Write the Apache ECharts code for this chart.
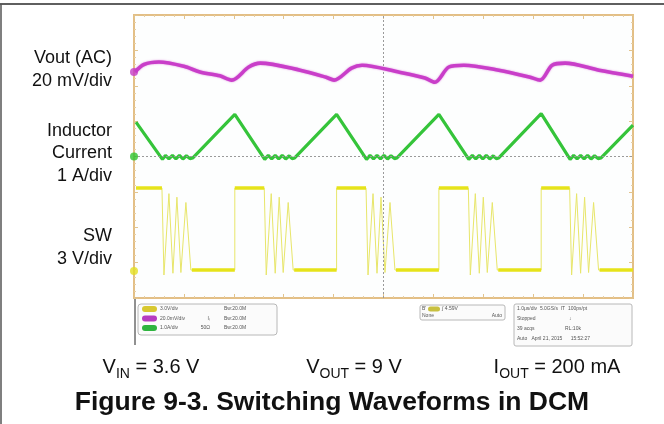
<!DOCTYPE html>
<html>
<head>
<meta charset="utf-8">
<script src="https://cdn.jsdelivr.net/npm/echarts@6/dist/echarts.min.js"></script>
<style>
html,body{margin:0;padding:0;background:#fff;}
#c{width:664px;height:424px;}
</style>
</head>
<body>
<div id="c"></div>
<script>
// Time in divisions (0..10), amplitude in divisions (-4..4, 0 = centre line)
var inductorCurrent = [
  [0.04,0.97],[0.57,-0.08],[0.63,0.03],[0.70,-0.07],[0.77,0.03],[0.84,-0.07],[0.91,0.03],[0.98,-0.07],[1.05,0.02],[1.12,-0.06],[1.18,-0.04],
  [2.02,1.19],[2.62,-0.08],[2.69,0.03],[2.76,-0.07],[2.83,0.03],[2.90,-0.07],[2.97,0.03],[3.04,-0.07],[3.11,0.02],[3.17,-0.06],[3.22,-0.04],
  [4.06,1.19],[4.66,-0.08],[4.73,0.03],[4.80,-0.07],[4.87,0.03],[4.94,-0.07],[5.01,0.03],[5.08,-0.07],[5.15,0.02],[5.22,-0.06],[5.27,-0.04],
  [6.11,1.19],[6.71,-0.08],[6.78,0.03],[6.85,-0.07],[6.92,0.03],[6.99,-0.07],[7.06,0.03],[7.13,-0.07],[7.20,0.02],[7.26,-0.06],[7.31,-0.04],
  [8.16,1.21],[8.74,-0.08],[8.81,0.03],[8.88,-0.07],[8.95,0.03],[9.02,-0.07],[9.09,0.03],[9.16,-0.07],[9.23,0.02],[9.30,-0.06],[9.36,-0.04],
  [10.0,0.89]
];
var voutAC = [
  [0.02,2.39],[0.20,2.60],[0.50,2.67],[1.00,2.55],[1.32,2.39],[1.72,2.28],[1.96,2.16],
  [2.30,2.53],[2.53,2.64],[3.33,2.44],[3.85,2.24],[4.01,2.16],
  [4.36,2.50],[4.57,2.58],[5.32,2.38],[5.83,2.22],[6.03,2.10],
  [6.31,2.53],[6.61,2.58],[7.31,2.44],[7.92,2.25],[8.14,2.16],
  [8.38,2.58],[8.64,2.64],[9.32,2.44],[10.0,2.27]
];
var swNode = [
  [0.04,-0.89],[0.56,-0.89],[0.60,-3.35],[0.70,-1.05],[0.78,-3.30],[0.86,-1.15],[0.94,-3.28],[1.04,-1.30],[1.14,-3.21],
  [2.02,-3.21],[2.02,-0.89],[2.61,-0.89],[2.65,-3.35],[2.75,-1.05],[2.83,-3.30],[2.91,-1.15],[2.99,-3.28],[3.09,-1.30],[3.19,-3.21],
  [4.06,-3.21],[4.06,-0.89],[4.65,-0.89],[4.69,-3.35],[4.79,-1.05],[4.87,-3.30],[4.95,-1.15],[5.03,-3.28],[5.13,-1.30],[5.23,-3.21],
  [6.11,-3.21],[6.11,-0.89],[6.70,-0.89],[6.74,-3.35],[6.84,-1.05],[6.92,-3.30],[7.00,-1.15],[7.08,-3.28],[7.18,-1.30],[7.28,-3.21],
  [8.16,-3.21],[8.16,-0.89],[8.73,-0.89],[8.77,-3.35],[8.87,-1.05],[8.95,-3.30],[9.03,-1.15],[9.11,-3.28],[9.21,-1.30],[9.31,-3.21],
  [10.0,-3.21]
];
var swFlats = [
  [0.04,-0.89],[0.56,-0.89],null,[1.16,-3.21],[2.02,-3.21],null,[2.02,-0.89],[2.61,-0.89],null,
  [3.21,-3.21],[4.06,-3.21],null,[4.06,-0.89],[4.65,-0.89],null,[5.25,-3.21],[6.11,-3.21],null,
  [6.11,-0.89],[6.70,-0.89],null,[7.30,-3.21],[8.16,-3.21],null,[8.16,-0.89],[8.73,-0.89],null,[9.33,-3.21],[10.0,-3.21]
];
var groundMarkers = [[0,2.39,'#c63cc6'],[0,0,'#2fc42f'],[0,-3.24,'#e4e020']];
var channelLabels = [
  ['Vout (AC)',58],['20 mV/div',81],['Inductor',131],['Current',153],['1 A/div',176],['SW',236],['3 V/div',259]
];
var conditions = [['V','IN',' = 3.6 V'],['V','OUT',' = 9 V'],['I','OUT',' = 200 mA']];
var titleText = 'Figure 9-3. Switching Waveforms in DCM';
var scopeInfo1 = [['3.0V/div','','Bw:20.0M','#d8c830'],['20.0mV/div','Iₗ','Bw:20.0M','#b73cc0'],['1.0A/div','50Ω','Bw:20.0M','#2fb43f']];
var scopeInfo3 = [['1.0μs/div  5.0GS/s  IT  100ps/pt'],['Stopped                        ↓'],['39 acqs                      RL:10k'],['Auto   April 21, 2015      15:52:27']];

var chart = echarts.init(document.getElementById('c'), null, {renderer:'canvas'});
var GL = 134, GT = 15, GW = 499, GH = 283;
var tickStyle = {show:true, inside:true, length:4, lineStyle:{color:'#e2c48e', width:1}};
var minorStyle = {show:true, length:2, splitNumber:5, lineStyle:{color:'#e6cfa4', width:1}};
function ax(pos, isX){
  return {type:'value', position:pos, min: isX?0:-4, max: isX?10:4, interval:1,
    axisLine:{show:false, onZero:false}, axisLabel:{show:false}, splitLine:{show:false},
    axisTick: tickStyle, minorTick: minorStyle};
}
var xAxes = [ax('bottom',true), ax('top',true)];
var yAxes = [ax('left',false), ax('right',false)];

var mctx = document.createElement('canvas').getContext('2d');
function tw(text, font){ mctx.font = font; return mctx.measureText(text).width; }

var graphics = [];
// outer frame
graphics.push({type:'line', shape:{x1:0,y1:4,x2:664,y2:4}, style:{stroke:'#2a2a2a', lineWidth:1.5}});
graphics.push({type:'line', shape:{x1:1,y1:4,x2:1,y2:424}, style:{stroke:'#555', lineWidth:1.5}});
// channel labels
var FF = '"Liberation Sans", Arial, sans-serif';
channelLabels.forEach(function(l){
  graphics.push({type:'text', x:112, y:l[1], style:{text:l[0], font:'18px '+FF, fill:'#111', align:'right', verticalAlign:'middle'}});
});
// info area
graphics.push({type:'line', shape:{x1:135,y1:298,x2:135,y2:345}, style:{stroke:'#222', lineWidth:1}});
graphics.push({type:'rect', shape:{x:138,y:304,width:139,height:31,r:3}, style:{fill:'#fbfbfb', stroke:'#b8b8b8', lineWidth:1}});
scopeInfo1.forEach(function(r,i){
  var y = 309 + i*9.5;
  graphics.push({type:'rect', shape:{x:142,y:y-3,width:15,height:6,r:3}, style:{fill:r[3]}});
  graphics.push({type:'text', x:160, y:y, style:{text:r[0], font:'5px sans-serif', fill:'#555', verticalAlign:'middle'}});
  graphics.push({type:'text', x:210, y:y, style:{text:r[1], font:'5px sans-serif', fill:'#555', verticalAlign:'middle', align:'right'}});
  graphics.push({type:'text', x:224, y:y, style:{text:r[2], font:'5px sans-serif', fill:'#555', verticalAlign:'middle'}});
});
graphics.push({type:'rect', shape:{x:420,y:305,width:85,height:15,r:2}, style:{fill:'#fbfbfb', stroke:'#b8b8b8', lineWidth:1}});
graphics.push({type:'rect', shape:{x:428,y:306.5,width:12,height:5,r:2.5}, style:{fill:'#c8c040'}});
graphics.push({type:'text', x:422, y:309, style:{text:'B\'', font:'5px sans-serif', fill:'#555', verticalAlign:'middle'}});
graphics.push({type:'text', x:442, y:309, style:{text:'∫ 4.59V', font:'5px sans-serif', fill:'#555', verticalAlign:'middle'}});
graphics.push({type:'text', x:422, y:316, style:{text:'None', font:'5px sans-serif', fill:'#555', verticalAlign:'middle'}});
graphics.push({type:'text', x:502, y:316, style:{text:'Auto', font:'5px sans-serif', fill:'#555', verticalAlign:'middle', align:'right'}});
graphics.push({type:'rect', shape:{x:514,y:304,width:118,height:42,r:2}, style:{fill:'#fbfbfb', stroke:'#b8b8b8', lineWidth:1}});
scopeInfo3.forEach(function(r,i){
  graphics.push({type:'text', x:517, y:309 + i*10, style:{text:r[0], font:'5px sans-serif', fill:'#555', verticalAlign:'middle'}});
});
// operating conditions with real subscripts
var condCentres = [151, 354, 557];
var mainFont = '20px '+FF, subFont = '14px '+FF;
conditions.forEach(function(c, i){
  var w1 = tw(c[0], mainFont), w2 = tw(c[1], subFont), w3 = tw(c[2], mainFont);
  var x0 = condCentres[i] - (w1+w2+w3)/2;
  graphics.push({type:'text', x:x0, y:367, style:{text:c[0], font:mainFont, fill:'#111', verticalAlign:'middle'}});
  graphics.push({type:'text', x:x0+w1, y:374, style:{text:c[1], font:subFont, fill:'#111', verticalAlign:'middle'}});
  graphics.push({type:'text', x:x0+w1+w2, y:367, style:{text:c[2], font:mainFont, fill:'#111', verticalAlign:'middle'}});
});
graphics.push({type:'text', x:332, y:403, style:{text:titleText, font:'bold 26.5px '+FF, fill:'#111', align:'center', verticalAlign:'middle'}});

var option = {
  animation:false,
  backgroundColor:'#ffffff',
  grid:{left:GL, top:GT, width:GW, height:GH, show:true, backgroundColor:'#fdfefe', borderColor:'#e3bf86', borderWidth:2},
  xAxis:xAxes,
  yAxis:yAxes,
  series:[
    {type:'line', data:swNode, symbol:'none', lineStyle:{color:'#e8e66a', width:1}, z:2,
     markLine:{silent:true, symbol:'none', label:{show:false}, lineStyle:{color:'#9a9a9a', type:[2,2], width:1},
       data:[{xAxis:5},{yAxis:0}]}},
    {type:'line', data:swFlats, symbol:'none', connectNulls:false, lineStyle:{color:'#e6e31a', width:3.5}, z:3},
    {type:'line', data:inductorCurrent, symbol:'none', lineStyle:{color:'#35c43a', width:3.2}, z:4},
    {type:'line', data:voutAC, symbol:'none', smooth:0.3, lineStyle:{color:'#c93ec9', width:3.6, shadowColor:'rgba(200,60,200,0.6)', shadowBlur:2}, z:5},
    {type:'scatter', data:groundMarkers, clip:false, symbol:'circle', symbolSize:8, z:6,
     itemStyle:{color:function(p){return p.data[2];}}}
  ],
  graphic:graphics
};
chart.setOption(option);
</script>
</body>
</html>
